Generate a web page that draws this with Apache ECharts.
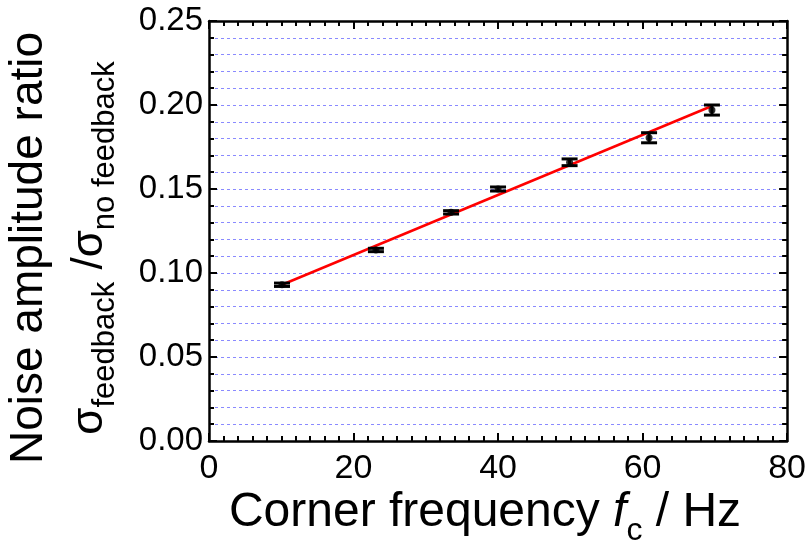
<!DOCTYPE html>
<html>
<head>
<meta charset="utf-8">
<script src="https://cdn.jsdelivr.net/npm/echarts@6/dist/echarts.min.js"></script>
<style>html,body{margin:0;padding:0;background:#fff}#c{width:809px;height:542px}</style>
</head>
<body>
<div id="c"></div>
<script>
// Data
const freqHz = [10.1, 23.1, 33.5, 40.0, 49.9, 60.9, 69.6];
const ratio = [0.093, 0.1137, 0.1361, 0.150, 0.1659, 0.1805, 0.197];
const ratioErr = [0.001, 0.001, 0.001, 0.0012, 0.002, 0.003, 0.003];
const fitX = [10.1, 69.6];
const fitY = [0.093, 0.1994];
const xTicks = [0, 20, 40, 60, 80];
const yTicks = [0.00, 0.05, 0.10, 0.15, 0.20, 0.25];

const chart = echarts.init(document.getElementById('c'));
const FONT = 'Liberation Sans, Arial, sans-serif';
const axisCommon = {
  axisLine: {show: true, onZero: false, lineStyle: {color: '#000', width: 2.5}},
  axisTick: {show: true, inside: true, length: 8, lineStyle: {color: '#000', width: 2}},
  minorTick: {show: true, splitNumber: 0, length: 5, lineStyle: {color: '#000', width: 2}}
};
function xAx(pos, showLabel) {
  return Object.assign({}, axisCommon, {
    type: 'value', position: pos, min: xTicks[0], max: xTicks[xTicks.length-1], interval: 20,
    minorTick: Object.assign({}, axisCommon.minorTick, {splitNumber: 10}),
    axisLabel: {show: showLabel, fontSize: 34, color: '#000', fontFamily: FONT, margin: 11},
    splitLine: {show: false}
  });
}
function yAx(pos, showLabel) {
  return Object.assign({}, axisCommon, {
    type: 'value', position: pos, min: yTicks[0], max: yTicks[yTicks.length-1], interval: 0.05,
    minorTick: Object.assign({}, axisCommon.minorTick, {splitNumber: 5}),
    axisLabel: {show: showLabel, fontSize: 33, color: '#000', fontFamily: FONT, margin: 6,
      formatter: v => v.toFixed(2)},
    splitLine: {show: showLabel, lineStyle: {color: '#8a8aff', type: [3, 3], width: 1}},
    minorSplitLine: {show: showLabel, lineStyle: {color: '#8a8aff', type: [3, 3], width: 1}}
  });
}

chart.setOption({
  animation: false,
  backgroundColor: '#fff',
  grid: {left: 209, right: 21, top: 21, bottom: 101},
  xAxis: [xAx('bottom', true), xAx('top', false)],
  yAxis: [yAx('left', true), yAx('right', false)],
  series: [
    {
      type: 'line', data: fitX.map((x, i) => [x, fitY[i]]), showSymbol: false,
      lineStyle: {color: '#ff0000', width: 2.5}, z: 3
    },
    {
      type: 'custom', z: 4,
      data: freqHz.map((x, i) => [x, ratio[i], ratioErr[i]]),
      renderItem: function (params, api) {
        const x = api.value(0), y = api.value(1), e = api.value(2);
        const top = api.coord([x, y + e]);
        const bot = api.coord([x, y - e]);
        const hw = 8;
        const st = {stroke: '#000', lineWidth: 3};
        return {type: 'group', children: [
          {type: 'line', shape: {x1: top[0], y1: top[1], x2: bot[0], y2: bot[1]}, style: st},
          {type: 'line', shape: {x1: top[0]-hw, y1: top[1], x2: top[0]+hw, y2: top[1]}, style: st},
          {type: 'line', shape: {x1: bot[0]-hw, y1: bot[1], x2: bot[0]+hw, y2: bot[1]}, style: st}
        ]};
      }
    },
    {
      type: 'scatter', data: freqHz.map((x, i) => [x, ratio[i]]),
      symbol: 'circle', symbolSize: 7, itemStyle: {color: '#000'}, z: 5
    }
  ],
  graphic: [
    {
      type: 'text', x: 485, y: 489,
      style: {
        text: '{n|Corner frequency }{i|f}{s|c}{n| / Hz}',
        align: 'center', verticalAlign: 'top',
        rich: {
          n: {fontSize: 48, fontFamily: FONT, fill: '#000', lineHeight: 48, verticalAlign: 'top'},
          i: {fontSize: 48, fontFamily: FONT, fontStyle: 'italic', fill: '#000', lineHeight: 48, verticalAlign: 'top'},
          s: {fontSize: 32, fontFamily: FONT, fill: '#000', lineHeight: 32, padding: [26, 0, 0, 0], verticalAlign: 'top'}
        }
      }
    },
    {
      type: 'text', x: 6, y: 248, rotation: Math.PI / 2,
      style: {
        text: 'Noise amplitude ratio', fontSize: 46, fontFamily: FONT, fill: '#000',
        align: 'center', verticalAlign: 'top'
      }
    },
    {
      type: 'text', x: 68, y: 248, rotation: Math.PI / 2,
      style: {
        text: '{g|σ}{s|feedback}{g| /σ}{s|no feedback}',
        align: 'center', verticalAlign: 'top',
        rich: {
          g: {fontSize: 44, fontFamily: FONT, fill: '#000', lineHeight: 44, verticalAlign: 'top'},
          s: {fontSize: 31, fontFamily: FONT, fill: '#000', lineHeight: 31, padding: [22, 0, 0, 0], verticalAlign: 'top'}
        }
      }
    }
  ]
});
</script>
</body>
</html>
